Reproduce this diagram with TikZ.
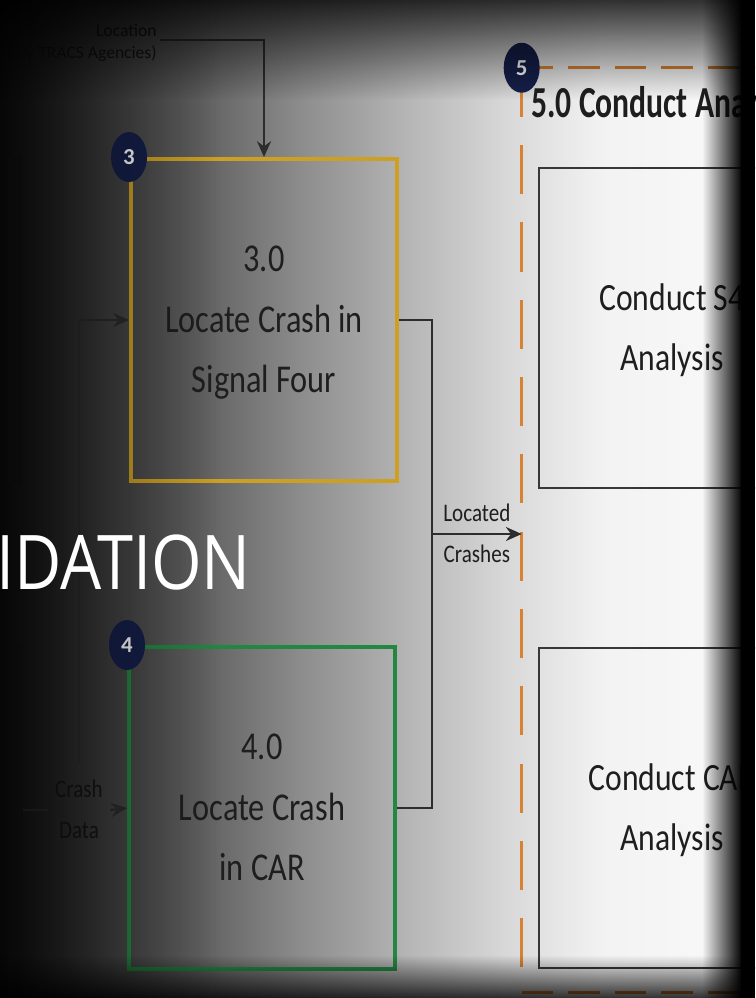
\documentclass[tikz,border=0pt]{standalone}
\usepackage{fontspec}
\setmainfont{Carlito}
\newfontfamily\slidefont{Open Sans}
\usepackage{graphicx}
\usepackage{tikz}
\usetikzlibrary{shapes.geometric,arrows.meta,positioning,fadings}
\definecolor{inkclr}{RGB}{30,30,30}
\definecolor{lineclr}{RGB}{45,45,45}
\definecolor{faintclr}{RGB}{22,22,22}
\definecolor{goldbdr}{RGB}{205,160,35}
\definecolor{greenbdr}{RGB}{35,135,65}
\definecolor{orgdash}{RGB}{215,130,50}
\definecolor{badgeclr}{RGB}{22,32,75}
\definecolor{anlbdr}{RGB}{55,55,55}
\newcommand{\boxtxt}[2][1.22]{\scalebox{1}[#1]{\begin{tabular}{@{}c@{}}#2\end{tabular}}}
\tikzfading[name=fadetop,top color=transparent!20,bottom color=transparent!100]
\tikzfading[name=fadebot,top color=transparent!100,bottom color=transparent!20]
\tikzfading[name=faderight,left color=transparent!100,right color=transparent!0]
\tikzfading[name=fadeleft,left color=transparent!45,right color=transparent!100]
\tikzset{
  pblk/.style={rectangle,draw=#1,line width=2.3pt,
    minimum width=5.32cm,minimum height=6.44cm,inner sep=0pt,
    font=\fontsize{18.4}{28}\selectfont,text=inkclr},
  ablk/.style={rectangle,draw=anlbdr,line width=1.3pt,
    minimum width=5.32cm,minimum height=6.4cm,inner sep=0pt,
    font=\fontsize{18}{28}\selectfont,text=inkclr},
  lftbox/.style={rectangle,draw=faintclr,line width=1.3pt,
    minimum width=0.24cm,inner sep=0pt},
  badge/.style={ellipse,fill=badgeclr,minimum width=0.72cm,minimum height=1cm,
    inner sep=0pt,text=white,font=\fontsize{13}{15}\selectfont\bfseries},
  grpttl/.style={font=\fontsize{18}{22}\selectfont\bfseries,text=inkclr,inner sep=0pt},
  grpv/.style={draw=orgdash,line width=1.6pt,dash pattern=on 28pt off 16pt},
  grph/.style={draw=orgdash,line width=1.6pt,dash pattern=on 18pt off 8.5pt},
  arr/.style={-{Stealth[length=9pt,width=8pt]},line width=1.2pt,color=lineclr},
  ln/.style={line width=1.2pt,color=lineclr},
  lbl/.style={font=\fontsize{12}{19}\selectfont,text=inkclr,inner sep=1pt},
  srclbl/.style={font=\fontsize{10}{13}\selectfont,text=faintclr,align=right,inner sep=0pt},
}
\begin{document}
\begin{tikzpicture}[x=0.02cm,y=-0.02cm]
  \useasboundingbox (0,0) rectangle (755,998);
  \clip (0,0) rectangle (755,998);
  % backdrop
  \shade[left color=white!6!black,right color=white!24!black] (0,0) rectangle (101,998);
  \shade[left color=white!24!black,right color=white!38!black] (100,0) rectangle (201,998);
  \shade[left color=white!38!black,right color=white!55!black] (200,0) rectangle (301,998);
  \shade[left color=white!55!black,right color=white!70!black] (300,0) rectangle (401,998);
  \shade[left color=white!70!black,right color=white!84!black] (400,0) rectangle (501,998);
  \shade[left color=white!84!black,right color=white!95!black] (500,0) rectangle (601,998);
  \shade[left color=white!95!black,right color=white!98!black] (600,0) rectangle (755,998);

  % 3.0 and 4.0
  \node[pblk=goldbdr] (box3) at (264,320) {\boxtxt{3.0\\Locate Crash in\\Signal Four}};
  \node[pblk=greenbdr] (box4) at (262,808) {\boxtxt{4.0\\Locate Crash\\in CAR}};

  % 5.0 group
  \node[minimum width=6.2cm,minimum height=18.48cm,inner sep=0pt] (grp) at (677,530) {};
  \draw[grpv] (grp.north west) -- (grp.south west);
  \draw[grph] (grp.north west) -- (grp.north east);
  \draw[grph] (grp.south west) -- (grp.south east);
  \node[grpttl,anchor=west] (grptitle) at (531,105) {\scalebox{1}[1.4]{5.0 Conduct Analysis}};
  \node[ablk] (anl1) at (672,328) {\boxtxt{Conduct S4\\Analysis}};
  \node[ablk] (anl2) at (672,808) {\boxtxt{Conduct CAR\\Analysis}};

  % badges
  \node[badge] (bdg3) at (box3.north west) {3};
  \node[badge] (bdg4) at (box4.north west) {4};
  \node[badge] (bdg5) at (grp.north west) {5};

  % left stubs
  \node[lftbox,minimum height=6.5cm] (lbox1) at (15,320) {};
  \node[lftbox,minimum height=7.3cm] (lbox2) at (16,828) {};

  % inputs
  \node[srclbl,anchor=east] (srctxt) at (157,43) {Location\\(by TRACS Agencies)};
  \coordinate (srcpt) at (160,40);
  \draw[arr] (srcpt) -| (box3.north);
  \node[lbl,text=faintclr,inner sep=4pt] (crashlbl) at (79,810) {\boxtxt[1.2]{Crash\\Data}};
  \draw[ln] (lbox2.east |- crashlbl) -- (crashlbl.west);
  \draw[arr] (crashlbl.east) -- (box4.west);
  \draw[arr] (crashlbl.north) |- (box3.west);

  % located crashes
  \coordinate (mrg) at (432,534);
  \draw[ln] (box3.east) -| (mrg) |- (box4.east);
  \draw[arr] (mrg) -- node[lbl] {\boxtxt[1.2]{Located\\Crashes}} (grp.west |- mrg);

  % vignette
  \fill[black,path fading=fadetop] (0,0) rectangle (755,100);
  \fill[black,path fading=fadebot] (0,955) rectangle (755,998);
  \fill[black,path fading=fadeleft] (0,0) rectangle (220,998);
  \fill[black,path fading=faderight] (702,0) rectangle (742,998);
  \fill[black] (741,0) rectangle (755,998);

  \node[anchor=west,text=white,font=\slidefont\fontsize{37}{42}\selectfont,inner sep=0pt]
    (slidettl) at (-4,563) {\scalebox{1}[1.16]{IDATION}};
\end{tikzpicture}
\end{document}
